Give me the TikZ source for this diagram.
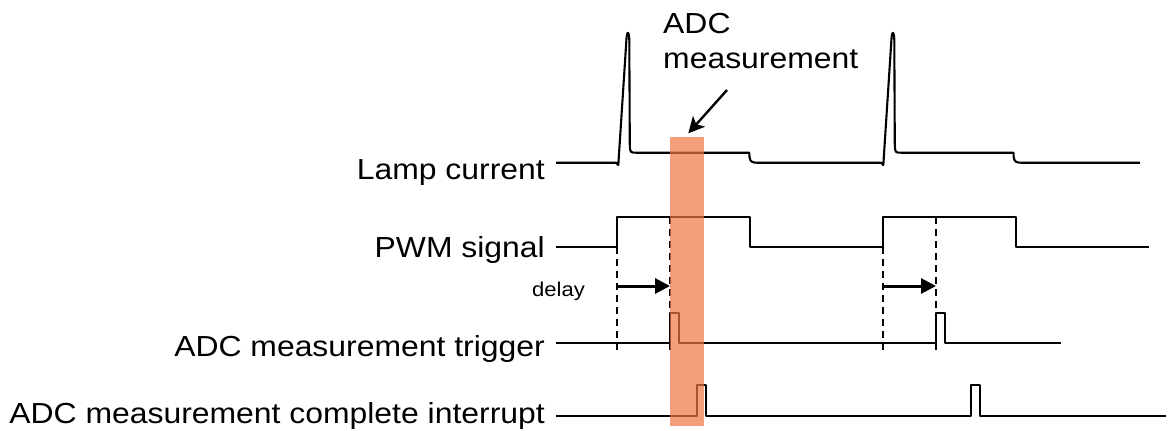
\documentclass[tikz,border=0pt]{standalone}
\usepackage{fontspec}
\setmainfont{Liberation Sans}[FakeStretch=1.1]
\usetikzlibrary{arrows.meta}
\definecolor{adcorange}{RGB}{238,119,65}
\tikzset{
  wave/.style={line width=2.1pt, line join=round, line cap=butt},
  guide/.style={line width=1.8pt, dash pattern=on 7pt off 5pt},
  delayarrow/.style={line width=3pt, -{Triangle[length=15pt,width=15pt]}},
  callout/.style={line width=2.4pt, -{Stealth[length=16pt,width=16pt,inset=4pt]}},
  lbl/.style={anchor=base east, inner sep=0pt, font=\fontsize{29}{33}\selectfont},
  smalllbl/.style={anchor=base east, inner sep=0pt, font=\fontsize{20}{24}\selectfont},
  window/.style={fill=adcorange, fill opacity=0.7, draw=none}
}
\begin{document}
\begin{tikzpicture}[x=1pt,y=-1pt]
\useasboundingbox (0,0) rectangle (1168,431);
% labels
\node[lbl] (lamp) at (545,179) {Lamp current};
\node[lbl] (pwm) at (545,257.5) {PWM signal};
\node[lbl] (trig) at (545,356.7) {ADC measurement trigger};
\node[lbl] (irq) at (545,423.3) {ADC measurement complete interrupt};
\node[smalllbl] (delay) at (585,296) {delay};
\node[anchor=north west, inner sep=0pt, align=left, font=\fontsize{29}{35}\selectfont] (adc) at (663,13) {ADC\\measurement};
% waveform start points
\coordinate (l0) at (556,162.7);
\coordinate (p0) at (556,247.3);
\coordinate (t0) at (556,343.3);
\coordinate (i0) at (556,416);
% lamp current
\draw[wave] (l0) -- (616,162.7) -- (618.3,165) -- (626.6,37)
  .. controls (627.3,31) and (629,31) .. (629.3,40) -- (629.8,146)
  .. controls (630,152.5) and (631,152.7) .. (636,152.7) -- (749.3,152.7) -- (749.5,157)
  .. controls (750,161.5) and (752,162.7) .. (757,162.7) -- (881,162.7)
  -- (883.3,165) -- (891.6,37)
  .. controls (892.3,31) and (894,31) .. (894.3,40) -- (894.8,146)
  .. controls (895,152.5) and (896,152.7) .. (901,152.7) -- (1013.5,152.7) -- (1013.7,157)
  .. controls (1014.2,161.5) and (1016,162.7) .. (1021,162.7) -- (1140,162.7);
% pwm
\draw[wave] (p0) -- (617,247.3) -- (617,217.3) -- (750,217.3) -- (750,247.3)
  -- (882.7,247.3) -- (882.7,217.3) -- (1016,217.3) -- (1016,247.3) -- (1148.7,247.3);
% trigger
\draw[wave] (t0) -- (670,343.3);
\draw[wave] (670,350) -- (670,312.7) -- (679.3,312.7) -- (679.3,343.3) -- (936,343.3);
\draw[wave] (936,350) -- (936,312.7) -- (945,312.7) -- (945,343.3) -- (1060.7,343.3);
% interrupt
\draw[wave] (i0) -- (697,416) -- (697,385) -- (705.7,385) -- (705.7,416)
  -- (971,416) -- (971,385) -- (980.3,385) -- (980.3,416) -- (1166,416);
% guides
\coordinate (g1a) at (617,247.3); \coordinate (g1b) at (617,353);
\coordinate (g2a) at (670,217.3); \coordinate (g2b) at (670,312.7);
\coordinate (g3a) at (882.7,247.3); \coordinate (g3b) at (882.7,353);
\coordinate (g4a) at (936,217.3); \coordinate (g4b) at (936,312.7);
\draw[guide] (g1a) -- (g1b);
\draw[guide] (g2a) -- (g2b);
\draw[guide] (g3a) -- (g3b);
\draw[guide] (g4a) -- (g4b);
% delay arrows
\coordinate (d1a) at (617,286); \coordinate (d1b) at (670,286);
\coordinate (d2a) at (882.7,286); \coordinate (d2b) at (936,286);
\draw[delayarrow] (d1a) -- (d1b);
\draw[delayarrow] (d2a) -- (d2b);
% ADC window
\node[window, minimum width=34pt, minimum height=289pt, inner sep=0pt, anchor=north west] (win) at (670,137) {};
% callout arrow
\coordinate (ca) at (727,90);
\coordinate (cb) at (688.3,133.3);
\draw[callout] (ca) -- (cb);
\end{tikzpicture}
\end{document}
